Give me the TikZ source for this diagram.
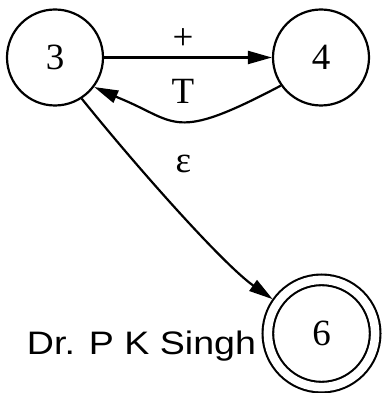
\documentclass[tikz,border=0pt]{standalone}
\usepackage{fontspec}
\setmainfont{Liberation Serif}
\newfontfamily\labsans{Liberation Sans}
\usetikzlibrary{arrows.meta}
\tikzset{
  state/.style={circle, draw, line width=2.2pt, minimum size=96pt, inner sep=0pt, font=\fontsize{37}{40}\selectfont},
  accept/.style={circle, draw, line width=2.1pt, double, double distance=8.5pt, minimum size=107.3pt, inner sep=0pt, outer sep=6pt, font=\fontsize{37}{40}\selectfont},
  edge/.style={line width=2.2pt, -{Triangle[length=24pt, width=13pt]}},
  elabel/.style={font=\fontsize{37}{40}\selectfont, inner sep=0pt}
}
\begin{document}
\begin{tikzpicture}[x=1pt, y=1pt]
\useasboundingbox (0,0) rectangle (381,393);
\node[state] (n3) at (55,335.5) {3};
\node[state] (n4) at (321,335.5) {4};
\node[accept] (n6) at (321.5,59.5) {6};
\draw[edge] (n3) -- (n4);
\coordinate (tb) at (119,295);
\draw[edge] (n4.215) .. controls (172,250) and (178,271) .. (tb) -- (n3.-37);
\draw[edge] (n3.-57) .. controls (140,222) and (224,128) .. (n6);
\node[elabel] (lplus) at (183,354) {+};
\node[elabel] (lT) at (183,301.5) {T};
\node[elabel] (leps) at (183.5,229) {ε};
\node[inner sep=0pt, anchor=base] (sig) at (141.5,38) {\resizebox{229pt}{\height}{\labsans\fontsize{32.5}{36}\selectfont Dr. P K Singh}};
\end{tikzpicture}
\end{document}
